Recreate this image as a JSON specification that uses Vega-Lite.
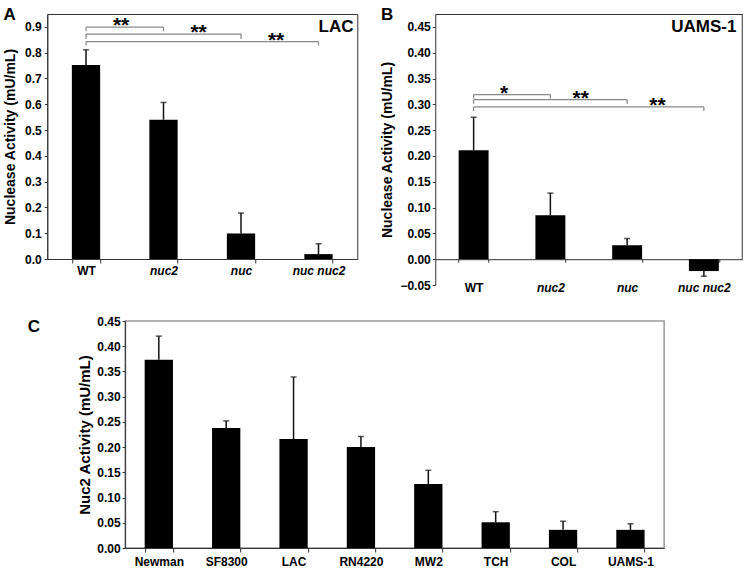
{
  "$schema": "https://vega.github.io/schema/vega-lite/v6.json",
  "padding": {"left": 3, "top": 5, "right": 3, "bottom": 3},
  "background": "white",
  "config": {
    "font": "Liberation Sans",
    "axis": {"labelFont": "Liberation Sans", "titleFont": "Liberation Sans", "labelFontWeight": "bold", "titleFontWeight": "bold", "labelColor": "black", "titleColor": "black", "domainColor": "#333", "tickColor": "#333", "grid": false, "labelFontSize": 12, "titleFontSize": 14, "zindex": 1},
    "title": {"font": "Liberation Sans", "fontWeight": "bold", "fontSize": 17, "color": "black"}
  },
  "datasets": {
    "lac": [
      {"strain": "WT", "value": 0.752, "err": 0.811},
      {"strain": "nuc2", "value": 0.540, "err": 0.607},
      {"strain": "nuc", "value": 0.099, "err": 0.178},
      {"strain": "nuc nuc2", "value": 0.019, "err": 0.059}
    ],
    "lacSig": [
      {"from": "WT", "to": "nuc2", "at": "nuc2", "y": 0.899, "y2": 0.883, "star": "**"},
      {"from": "WT", "to": "nuc", "at": "nuc", "y": 0.872, "y2": 0.853, "star": "**"},
      {"from": "WT", "to": "nuc nuc2", "at": "nuc nuc2", "y": 0.843, "y2": 0.828, "star": "**"}
    ],
    "lacLabel": [{"strain": "nuc nuc2", "y": 0.9, "text": "LAC"}],
    "uams": [
      {"strain": "WT", "value": 0.211, "err": 0.275},
      {"strain": "nuc2", "value": 0.085, "err": 0.128},
      {"strain": "nuc", "value": 0.027, "err": 0.040},
      {"strain": "nuc nuc2", "value": -0.023, "err": -0.033}
    ],
    "uamsSig": [
      {"from": "WT", "to": "nuc2", "at": "nuc2", "y": 0.319, "y2": 0.311, "star": "*"},
      {"from": "WT", "to": "nuc", "at": "nuc", "y": 0.309, "y2": 0.301, "star": "**"},
      {"from": "WT", "to": "nuc nuc2", "at": "nuc nuc2", "y": 0.295, "y2": 0.287, "star": "**"}
    ],
    "uamsLabel": [{"strain": "nuc nuc2", "y": 0.45, "text": "UAMS-1"}],
    "uamsFrame": [{"y": 0, "y2": 0.475}],
    "strains": [
      {"strain": "Newman", "value": 0.373, "err": 0.420},
      {"strain": "SF8300", "value": 0.238, "err": 0.252},
      {"strain": "LAC", "value": 0.216, "err": 0.339},
      {"strain": "RN4220", "value": 0.200, "err": 0.221},
      {"strain": "MW2", "value": 0.127, "err": 0.154},
      {"strain": "TCH", "value": 0.051, "err": 0.072},
      {"strain": "COL", "value": 0.036, "err": 0.053},
      {"strain": "UAMS-1", "value": 0.036, "err": 0.048}
    ]
  },
  "spacing": 20,
  "center": true,
  "vconcat": [
    {
      "spacing": 22,
      "hconcat": [
        {
          "width": 310,
          "height": 245,
          "view": {"stroke": "#333", "strokeWidth": 1},
          "title": {"text": "A", "anchor": "start", "frame": "bounds", "baseline": "alphabetic", "offset": -23},
          "resolve": {"axis": {"x": "independent", "y": "independent"}},
          "layer": [
            {
              "data": {"name": "lac"},
              "mark": {"type": "bar", "color": "black"},
              "encoding": {
                "x": {"field": "strain", "type": "nominal", "sort": null,
                  "scale": {"domain": ["WT", "nuc2", "nuc", "nuc nuc2"], "paddingInner": 0.635, "paddingOuter": 0.3175},
                  "axis": {"title": null, "labelAngle": 0, "tickBand": "extent", "tickSize": 4, "labelPadding": 2,
                    "labelFontStyle": {"condition": {"test": "datum.value === 'WT'", "value": "normal"}, "value": "italic"}}},
                "y": {"field": "value", "type": "quantitative",
                  "scale": {"domain": [0, 0.95], "nice": false},
                  "axis": {"title": "Nuclease Activity (mU/mL)", "values": [0, 0.1, 0.2, 0.3, 0.4, 0.5, 0.6, 0.7, 0.8, 0.9], "format": ".1f", "tickSize": 3, "labelPadding": 3, "titlePadding": 7}}
              }
            },
            {
              "data": {"name": "lac"},
              "mark": {"type": "rule", "color": "#111", "strokeWidth": 1.5},
              "encoding": {
                "x": {"field": "strain", "type": "nominal", "axis": null},
                "y": {"field": "value", "type": "quantitative", "axis": null},
                "y2": {"field": "err"}
              }
            },
            {
              "data": {"name": "lac"},
              "mark": {"type": "tick", "orient": "horizontal", "color": "#111", "size": 6, "thickness": 1.5},
              "encoding": {
                "x": {"field": "strain", "type": "nominal", "axis": null},
                "y": {"field": "err", "type": "quantitative", "axis": null}
              }
            },
            {
              "data": {"name": "lacSig"},
              "mark": {"type": "rule", "color": "#888", "strokeWidth": 1.2},
              "encoding": {
                "x": {"field": "from", "type": "nominal", "axis": null},
                "x2": {"field": "to"},
                "y": {"field": "y", "type": "quantitative", "axis": null}
              }
            },
            {
              "data": {"name": "lacSig"},
              "mark": {"type": "rule", "color": "#888", "strokeWidth": 1.2},
              "encoding": {
                "x": {"field": "from", "type": "nominal", "axis": null},
                "y": {"field": "y", "type": "quantitative", "axis": null},
                "y2": {"field": "y2"}
              }
            },
            {
              "data": {"name": "lacSig"},
              "mark": {"type": "rule", "color": "#888", "strokeWidth": 1.2},
              "encoding": {
                "x": {"field": "to", "type": "nominal", "axis": null},
                "y": {"field": "y", "type": "quantitative", "axis": null},
                "y2": {"field": "y2"}
              }
            },
            {
              "data": {"name": "lacSig"},
              "mark": {"type": "text", "fontSize": 21, "fontWeight": "bold", "baseline": "alphabetic", "dy": 5, "color": "black"},
              "encoding": {
                "x": {"field": "at", "type": "nominal", "bandPosition": -1.0, "axis": null},
                "y": {"field": "y", "type": "quantitative", "axis": null},
                "text": {"field": "star"}
              }
            },
            {
              "data": {"name": "lacLabel"},
              "mark": {"type": "text", "fontSize": 17, "fontWeight": "bold", "align": "left", "baseline": "middle", "color": "black"},
              "encoding": {
                "x": {"field": "strain", "type": "nominal", "axis": null},
                "y": {"field": "y", "type": "quantitative", "axis": null},
                "text": {"field": "text"}
              }
            }
          ]
        },
        {
          "width": 307,
          "height": 271,
          "view": {"stroke": null},
          "title": {"text": "B", "anchor": "start", "frame": "bounds", "baseline": "alphabetic", "offset": -23},
          "resolve": {"axis": {"x": "independent", "y": "independent"}},
          "layer": [
            {
              "data": {"name": "uams"},
              "mark": {"type": "bar", "color": "black"},
              "encoding": {
                "x": {"field": "strain", "type": "nominal", "sort": null,
                  "scale": {"domain": ["WT", "nuc2", "nuc", "nuc nuc2"], "paddingInner": 0.61, "paddingOuter": 0.305},
                  "axis": {"title": null, "labelAngle": 0, "tickBand": "extent", "tickSize": 3, "labelPadding": 20, "offset": -25.8,
                    "labelFontStyle": {"condition": {"test": "datum.value === 'WT'", "value": "normal"}, "value": "italic"}}},
                "y": {"field": "value", "type": "quantitative",
                  "scale": {"domain": [-0.05, 0.475], "nice": false},
                  "axis": {"title": "Nuclease Activity (mU/mL)", "values": [-0.05, 0, 0.05, 0.1, 0.15, 0.2, 0.25, 0.3, 0.35, 0.4, 0.45], "format": ".2f", "tickSize": 3, "labelPadding": 2, "titlePadding": 5}}
              }
            },
            {
              "data": {"name": "uams"},
              "mark": {"type": "rule", "opacity": 0},
              "encoding": {
                "x": {"field": "strain", "type": "nominal", "axis": {"orient": "top", "labels": false, "ticks": false, "title": null, "domainColor": "#333"}}
              }
            },
            {
              "data": {"name": "uamsFrame"},
              "mark": {"type": "rule", "color": "#333", "strokeWidth": 1},
              "encoding": {
                "x": {"value": "width"},
                "y": {"field": "y", "type": "quantitative", "axis": null},
                "y2": {"field": "y2"}
              }
            },
            {
              "data": {"name": "uams"},
              "mark": {"type": "rule", "color": "#111", "strokeWidth": 1.5},
              "encoding": {
                "x": {"field": "strain", "type": "nominal", "axis": null},
                "y": {"field": "value", "type": "quantitative", "axis": null},
                "y2": {"field": "err"}
              }
            },
            {
              "data": {"name": "uams"},
              "mark": {"type": "tick", "orient": "horizontal", "color": "#111", "size": 6, "thickness": 1.5},
              "encoding": {
                "x": {"field": "strain", "type": "nominal", "axis": null},
                "y": {"field": "err", "type": "quantitative", "axis": null}
              }
            },
            {
              "data": {"name": "uamsSig"},
              "mark": {"type": "rule", "color": "#888", "strokeWidth": 1.2},
              "encoding": {
                "x": {"field": "from", "type": "nominal", "axis": null},
                "x2": {"field": "to"},
                "y": {"field": "y", "type": "quantitative", "axis": null}
              }
            },
            {
              "data": {"name": "uamsSig"},
              "mark": {"type": "rule", "color": "#888", "strokeWidth": 1.2},
              "encoding": {
                "x": {"field": "from", "type": "nominal", "axis": null},
                "y": {"field": "y", "type": "quantitative", "axis": null},
                "y2": {"field": "y2"}
              }
            },
            {
              "data": {"name": "uamsSig"},
              "mark": {"type": "rule", "color": "#888", "strokeWidth": 1.2},
              "encoding": {
                "x": {"field": "to", "type": "nominal", "axis": null},
                "y": {"field": "y", "type": "quantitative", "axis": null},
                "y2": {"field": "y2"}
              }
            },
            {
              "data": {"name": "uamsSig"},
              "mark": {"type": "text", "fontSize": 21, "fontWeight": "bold", "baseline": "alphabetic", "dy": 5, "color": "black"},
              "encoding": {
                "x": {"field": "at", "type": "nominal", "bandPosition": -1.05, "axis": null},
                "y": {"field": "y", "type": "quantitative", "axis": null},
                "text": {"field": "star"}
              }
            },
            {
              "data": {"name": "uamsLabel"},
              "mark": {"type": "text", "fontSize": 17, "fontWeight": "bold", "align": "center", "baseline": "middle", "color": "black"},
              "encoding": {
                "x": {"field": "strain", "type": "nominal", "axis": null},
                "y": {"field": "y", "type": "quantitative", "axis": null},
                "text": {"field": "text"}
              }
            }
          ]
        }
      ]
    },
    {
      "width": 539,
      "height": 227,
      "view": {"stroke": "#999", "strokeWidth": 1.5},
      "resolve": {"axis": {"x": "independent", "y": "independent"}},
      "data": {"name": "strains"},
      "layer": [
        {
          "mark": {"type": "bar", "color": "black"},
          "encoding": {
            "x": {"field": "strain", "type": "nominal", "sort": null,
              "scale": {"paddingInner": 0.58, "paddingOuter": 0.29},
              "axis": {"title": null, "labelAngle": 0, "tickBand": "extent", "tickSize": 4, "labelPadding": 4}},
            "y": {"field": "value", "type": "quantitative",
              "scale": {"domain": [0, 0.45], "nice": false},
              "axis": {"title": [" ", "Nuc2 Activity (mU/mL)"], "titleLineHeight": 28, "values": [0, 0.05, 0.1, 0.15, 0.2, 0.25, 0.3, 0.35, 0.4, 0.45], "format": ".2f", "tickSize": 3, "labelPadding": 2, "titlePadding": 4, "titleFontSize": 15}}
          }
        },
        {
          "mark": {"type": "rule", "opacity": 0},
          "encoding": {
            "x": {"field": "strain", "type": "nominal", "sort": null, "axis": {"orient": "top", "labels": false, "ticks": false, "domain": false, "title": "C", "titleAngle": 0, "titleX": -98, "titleY": 10, "titleAlign": "left", "titleBaseline": "alphabetic", "titleFontSize": 17, "titleFontWeight": "bold"}}
          }
        },
        {
          "mark": {"type": "rule", "color": "#111", "strokeWidth": 1.5},
          "encoding": {
            "x": {"field": "strain", "type": "nominal", "sort": null, "axis": null},
            "y": {"field": "value", "type": "quantitative", "axis": null},
            "y2": {"field": "err"}
          }
        },
        {
          "mark": {"type": "tick", "orient": "horizontal", "color": "#111", "size": 6, "thickness": 1.5},
          "encoding": {
            "x": {"field": "strain", "type": "nominal", "sort": null, "axis": null},
            "y": {"field": "err", "type": "quantitative", "axis": null}
          }
        }
      ]
    }
  ]
}
